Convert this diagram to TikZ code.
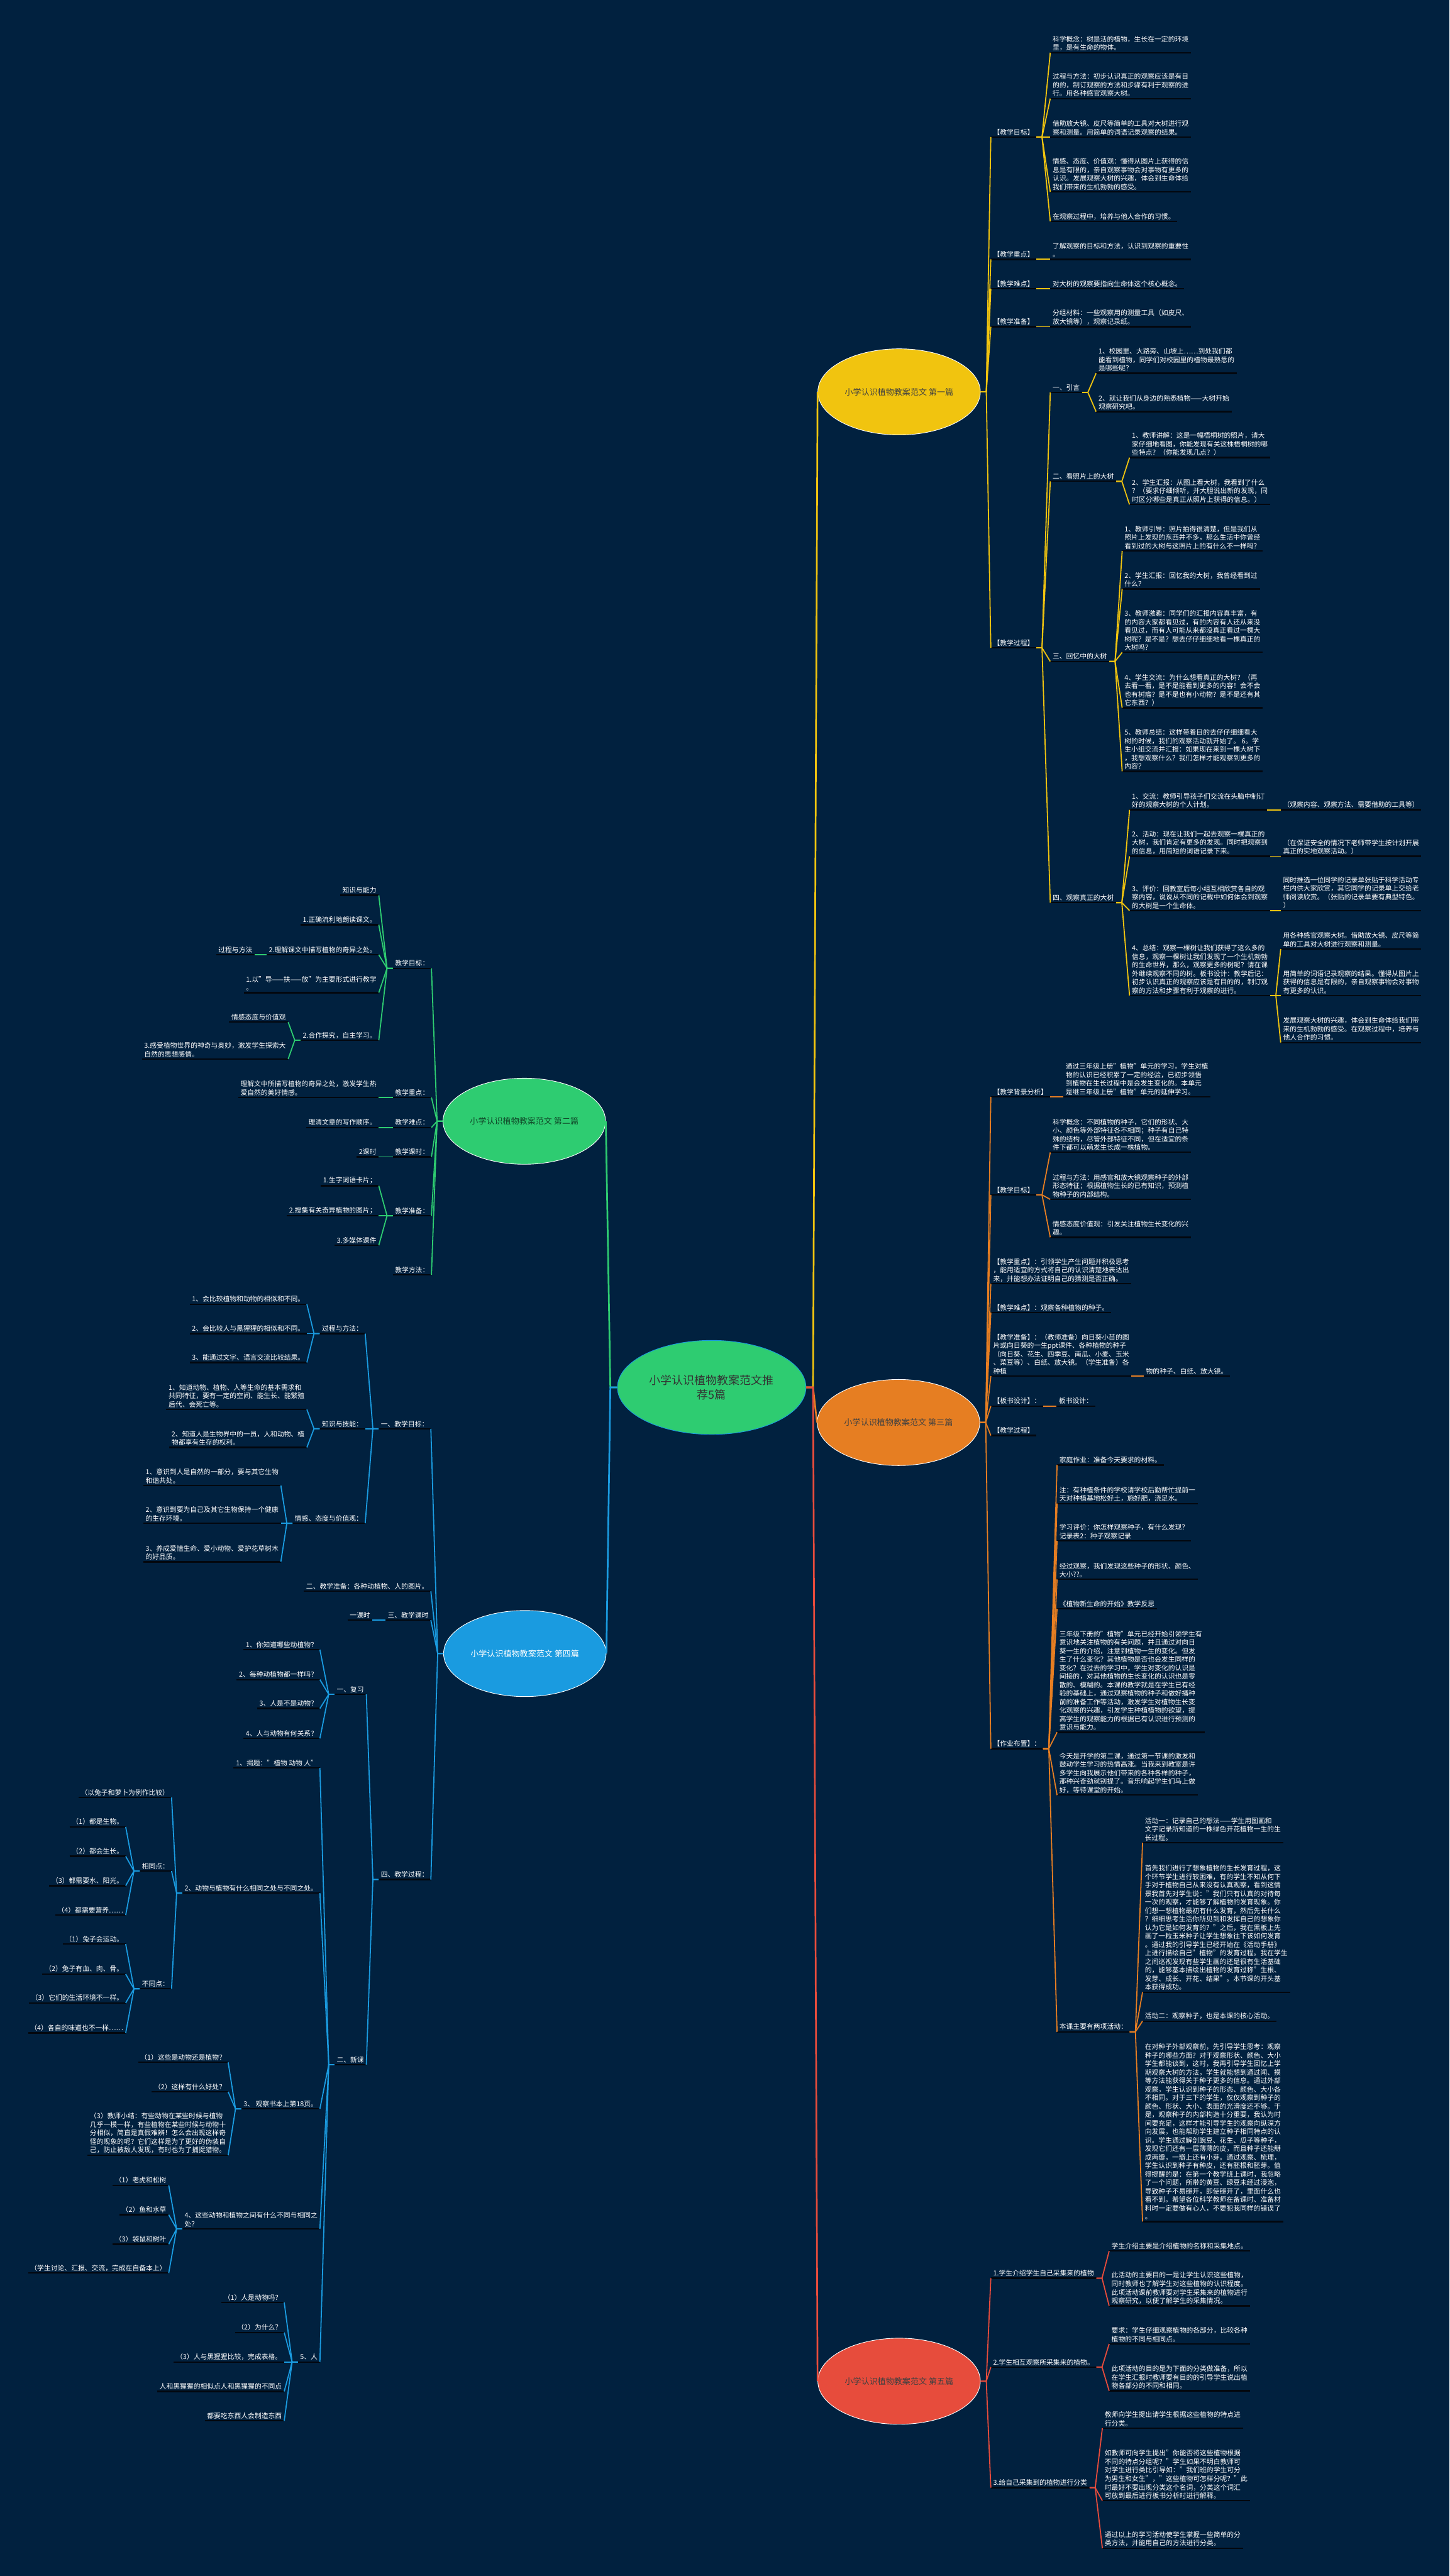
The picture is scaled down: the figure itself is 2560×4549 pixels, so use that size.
\documentclass[tikz,border=0pt]{standalone}
\usepackage{fontspec}
\setmainfont{Noto Sans CJK SC}
\usetikzlibrary{shapes.geometric}
\definecolor{bgnavy}{HTML}{01213F}
\definecolor{ulblack}{HTML}{03070E}
\definecolor{sun}{HTML}{F1C40F}
\definecolor{leaf}{HTML}{2ECC71}
\definecolor{carrot}{HTML}{E67E22}
\definecolor{sky}{HTML}{1A9BE0}
\definecolor{brick}{HTML}{E74C3C}

\begin{document}
\begin{tikzpicture}[
  x=1pt, y=-1pt,
  txt/.style={text=white, align=left, inner xsep=4pt, inner ysep=3pt,
              font=\fontsize{12}{15}\selectfont},
  uline/.style={draw=ulblack, line width=2.5pt},
  rt/.style={txt, anchor=south west,
    append after command={(\tikzlastnode.south west) edge[uline] (\tikzlastnode.south east)}},
  lt/.style={txt, anchor=south east,
    append after command={(\tikzlastnode.south west) edge[uline] (\tikzlastnode.south east)}},
  topic/.style={ellipse, draw=white, line width=1pt, minimum width=287pt,
                minimum height=152pt, font=\fontsize{14.5}{17}\selectfont, text=black!75},
  ylink/.style={draw=sun, line width=2pt},
  glink/.style={draw=leaf, line width=2pt},
  olink/.style={draw=carrot, line width=2pt},
  slink/.style={draw=sky, line width=2pt},
  rlink/.style={draw=brick, line width=2pt}
]
\fill[bgnavy] (0,0) rectangle (2560,4549);
\useasboundingbox (0,0) rectangle (2560,4549);

% centre and the five topics
\node[ellipse, fill=leaf, draw=sky, line width=1pt, minimum width=333pt, minimum height=166pt,
      align=center, font=\fontsize{20}{25}\selectfont, text=black!80] (root) at (1257,2450)
  {小学认识植物教案范文推\\荐5篇};
\node[topic, fill=sun] (t1) at (1588,692) {小学认识植物教案范文 第一篇};
\node[topic, fill=leaf, text=leaf!35!black] (t2) at (926,1980) {小学认识植物教案范文 第二篇};
\node[topic, fill=carrot] (t3) at (1587,2512) {小学认识植物教案范文 第三篇};
\node[topic, fill=sky, text=white] (t4) at (927,2920) {小学认识植物教案范文 第四篇};
\node[topic, fill=brick] (t5) at (1588,4205) {小学认识植物教案范文 第五篇};

% ---------- 第一篇
\node[rt] (y1) at (1750,242) {【教学目标】};
\node[rt] (y2) at (1750,458) {【教学重点】};
\node[rt] (y3) at (1750,510) {【教学难点】};
\node[rt] (y4) at (1750,577) {【教学准备】};
\node[rt] (y5) at (1750,1144) {【教学过程】};

\node[rt] (y1a) at (1855,93) {科学概念：树是活的植物，生长在一定的环境\\里，是有生命的物体。};
\node[rt] (y1b) at (1855,174) {过程与方法：初步认识真正的观察应该是有目\\的的，制订观察的方法和步骤有利于观察的进\\行。用各种感官观察大树。};
\node[rt] (y1c) at (1855,242) {借助放大镜、皮尺等简单的工具对大树进行观\\察和测量。用简单的词语记录观察的结果。};
\node[rt] (y1d) at (1855,339) {情感、态度、价值观：懂得从图片上获得的信\\息是有限的，亲自观察事物会对事物有更多的\\认识。发展观察大树的兴趣，体会到生命体给\\我们带来的生机勃勃的感受。};
\node[rt] (y1e) at (1855,391) {在观察过程中，培养与他人合作的习惯。};
\node[rt] (y2a) at (1855,458) {了解观察的目标和方法，认识到观察的重要性\\。};
\node[rt] (y3a) at (1855,510) {对大树的观察要指向生命体这个核心概念。};
\node[rt] (y4a) at (1855,577) {分组材料：一些观察用的测量工具（如皮尺、\\放大镜等），观察记录纸。};

\node[rt] (y5a) at (1855,693) {一、引言};
\node[rt] (y5b) at (1855,850) {二、看照片上的大树};
\node[rt] (y5c) at (1855,1168) {三、回忆中的大树};
\node[rt] (y5d) at (1855,1594) {四、观察真正的大树};

\node[rt] (y5a1) at (1936,659) {1、校园里、大路旁、山坡上……到处我们都\\能看到植物，同学们对校园里的植物最熟悉的\\是哪些呢？};
\node[rt] (y5a2) at (1936,727) {2、就让我们从身边的熟悉植物——大树开始\\观察研究吧。};
\node[rt] (y5b1) at (1995,808) {1、教师讲解：这是一幅梧桐树的照片，请大\\家仔细地看图，你能发现有关这株梧桐树的哪\\些特点？（你能发现几点？）};
\node[rt] (y5b2) at (1995,891) {2、学生汇报：从图上看大树，我看到了什么\\？（要求仔细倾听，并大胆说出新的发现，同\\时区分哪些是真正从照片上获得的信息。）};
\node[rt] (y5c1) at (1982,973) {1、教师引导：照片拍得很清楚，但是我们从\\照片上发现的东西并不多，那么生活中你曾经\\看到过的大树与这照片上的有什么不一样吗？};
\node[rt] (y5c2) at (1982,1040) {2、学生汇报：回忆我的大树，我曾经看到过\\什么？};
\node[rt] (y5c3) at (1982,1152) {3、教师激趣：同学们的汇报内容真丰富，有\\的内容大家都看见过，有的内容有人还从来没\\看见过，而有人可能从来都没真正看过一棵大\\树呢？是不是？想去仔仔细细地看一棵真正的\\大树吗？};
\node[rt] (y5c4) at (1982,1250) {4、学生交流：为什么想看真正的大树？（再\\去看一看，是不是能看到更多的内容！会不会\\也有树瘤？是不是也有小动物？是不是还有其\\它东西？）};
\node[rt] (y5c5) at (1982,1362) {5、教师总结：这样带着目的去仔仔细细看大\\树的时候，我们的观察活动就开始了。 6。学\\生小组交流并汇报：如果现在来到一棵大树下\\，我想观察什么？我们怎样才能观察到更多的\\内容？};
\node[rt] (y5d1) at (1995,1430) {1、交流：教师引导孩子们交流在头脑中制订\\好的观察大树的个人计划。};
\node[rt] (y5d2) at (1995,1512) {2、活动：现在让我们一起去观察一棵真正的\\大树，我们肯定有更多的发现。同时把观察到\\的信息，用简短的词语记录下来。};
\node[rt] (y5d3) at (1995,1608) {3、评价：回教室后每小组互相欣赏各自的观\\察内容，说说从不同的记载中如何体会到观察\\的大树是一个生命体。};
\node[rt] (y5d4) at (1995,1758) {4、总结：观察一棵树让我们获得了这么多的\\信息，观察一棵树让我们发现了一个生机勃勃\\的生命世界，那么，观察更多的树呢？请在课\\外继续观察不同的树。板书设计：教学后记：\\初步认识真正的观察应该是有目的的，制订观\\察的方法和步骤有利于观察的进行。};
\node[rt] (y5d1a) at (2262,1430) {（观察内容、观察方法、需要借助的工具等）};
\node[rt] (y5d2a) at (2262,1512) {（在保证安全的情况下老师带学生按计划开展\\真正的实地观察活动。）};
\node[rt] (y5d3a) at (2262,1608) {同时推选一位同学的记录单张贴于科学活动专\\栏内供大家欣赏，其它同学的记录单上交给老\\师阅读欣赏。（张贴的记录单要有典型特色。\\）};
\node[rt] (y5d4a) at (2262,1676) {用各种感官观察大树。借助放大镜、皮尺等简\\单的工具对大树进行观察和测量。};
\node[rt] (y5d4b) at (2262,1758) {用简单的词语记录观察的结果。懂得从图片上\\获得的信息是有限的，亲自观察事物会对事物\\有更多的认识。};
\node[rt] (y5d4c) at (2262,1841) {发展观察大树的兴趣，体会到生命体给我们带\\来的生机勃勃的感受。在观察过程中，培养与\\他人合作的习惯。};

% ---------- 第二篇
\node[lt] (g1) at (762,1710) {教学目标：};
\node[lt] (g2) at (762,1938) {教学重点：};
\node[lt] (g3) at (762,1991) {教学难点：};
\node[lt] (g4) at (762,2043) {教学课时：};
\node[lt] (g5) at (762,2147) {教学准备：};
\node[lt] (g6) at (762,2251) {教学方法：};

\node[lt] (g1a) at (669,1581) {知识与能力};
\node[lt] (g1b) at (669,1633) {1.正确流利地朗读课文。};
\node[lt] (g1c) at (669,1686) {2.理解课文中描写植物的奇异之处。};
\node[lt] (g1d) at (669,1753) {1.以"导——扶——放"为主要形式进行教学\\。};
\node[lt] (g1e) at (669,1837) {2.合作探究，自主学习。};
\node[lt] (g1c1) at (450,1686) {过程与方法};
\node[lt] (g1e1) at (509,1805) {情感态度与价值观};
\node[lt] (g1e2) at (509,1870) {3.感受植物世界的神奇与奥妙，激发学生探索大\\自然的思想感情。};
\node[lt] (g2a) at (669,1938) {理解文中所描写植物的奇异之处，激发学生热\\爱自然的美好情感。};
\node[lt] (g3a) at (669,1991) {理清文章的写作顺序。};
\node[lt] (g4a) at (669,2043) {2课时};
\node[lt] (g5a) at (669,2094) {1.生字词语卡片；};
\node[lt] (g5b) at (669,2147) {2.搜集有关奇异植物的图片；};
\node[lt] (g5c) at (669,2199) {3.多媒体课件};

% ---------- 第三篇
\node[rt] (o1) at (1750,1937) {【教学背景分析】};
\node[rt] (o2) at (1750,2110) {【教学目标】};
\node[rt] (o3) at (1750,2267) {【教学重点】：引领学生产生问题并积极思考\\，能用适宜的方式将自己的认识清楚地表达出\\来，并能想办法证明自己的猜测是否正确。};
\node[rt] (o4) at (1750,2318) {【教学难点】：观察各种植物的种子。};
\node[rt] (o5) at (1750,2430) {【教学准备】：（教师准备）向日葵小苗的图\\片或向日葵的一生ppt课件、各种植物的种子\\（向日葵、花生、四季豆、南瓜、小麦、玉米\\、菜豆等）、白纸、放大镜。（学生准备）各\\种植};
\node[rt] (o6) at (1750,2483) {【板书设计】：};
\node[rt] (o7) at (1750,2535) {【教学过程】};
\node[rt] (o8) at (1750,3088) {【作业布置】：};

\node[rt] (o1a) at (1878,1937) {通过三年级上册"植物"单元的学习，学生对植\\物的认识已经积累了一定的经验，已初步领悟\\到植物在生长过程中是会发生变化的。本单元\\是继三年级上册"植物"单元的延伸学习。};
\node[rt] (o2a) at (1855,2035) {科学概念：不同植物的种子，它们的形状、大\\小、颜色等外部特征各不相同；种子有自己特\\殊的结构，尽管外部特征不同，但在适宜的条\\件下都可以萌发生长成一株植物。};
\node[rt] (o2b) at (1855,2118) {过程与方法：用感官和放大镜观察种子的外部\\形态特征；根据植物生长的已有知识，预测植\\物种子的内部结构。};
\node[rt] (o2c) at (1855,2185) {情感态度价值观：引发关注植物生长变化的兴\\趣。};
\node[rt] (o5a) at (2020,2430) {物的种子、白纸、放大镜。};
\node[rt] (o6a) at (1866,2483) {板书设计：};

\node[rt] (o8a) at (1867,2587) {家庭作业：准备今天要求的材料。};
\node[rt] (o8b) at (1867,2655) {注：有种植条件的学校请学校后勤帮忙提前一\\天对种植基地松好土，施好肥，浇足水。};
\node[rt] (o8c) at (1867,2721) {学习评价：你怎样观察种子，有什么发现？\\记录表2：种子观察记录};
\node[rt] (o8d) at (1867,2789) {经过观察，我们发现这些种子的形状、颜色、\\大小??。};
\node[rt] (o8e) at (1867,2841) {《植物新生命的开始》教学反思};
\node[rt] (o8f) at (1867,3059) {三年级下册的"植物"单元已经开始引领学生有\\意识地关注植物的有关问题，并且通过对向日\\葵一生的介绍，注意到植物一生的变化。但发\\生了什么变化？其他植物是否也会发生同样的\\变化？在过去的学习中，学生对变化的认识是\\间接的，对其他植物的生长变化的认识也是零\\散的、模糊的。本课的教学就是在学生已有经\\验的基础上，通过观察植物的种子和做好播种\\前的准备工作等活动，激发学生对植物生长变\\化观察的兴趣，引发学生种植植物的欲望，提\\高学生的观察能力的根据已有认识进行预测的\\意识与能力。};
\node[rt] (o8g) at (1867,3170) {今天是开学的第二课，通过第一节课的激发和\\鼓动学生学习的热情高涨。当我来到教室是许\\多学生向我展示他们带来的各种各样的种子，\\那种兴奋劲就别提了。音乐响起学生们马上做\\好，等待课堂的开始。};
\node[rt] (o8h) at (1867,3588) {本课主要有两项活动：};
\node[rt] (o8h1) at (2018,3254) {活动一：记录自己的想法——学生用图画和\\文字记录所知道的一株绿色开花植物一生的生\\长过程。};
\node[rt] (o8h2) at (2018,3518) {首先我们进行了想象植物的生长发育过程，这\\个环节学生进行较困难，有的学生不知从何下\\手对于植物自己从来没有认真观察，看到这情\\景我首先对学生说："我们只有认真的对待每\\一次的观察，才能够了解植物的发育现象。你\\们想一想植物最初有什么发育，然后先长什么\\？细细思考生活你所见到和发挥自己的想象你\\认为它是如何发育的？"之后，我在黑板上先\\画了一粒玉米种子让学生想象往下该如何发育\\。通过我的引导学生已经开始在《活动手册》\\上进行描绘自己"植物"的发育过程。我在学生\\之间巡视发现有些学生画的还是很有生活基础\\的，能够基本描绘出植物的发育过称"生根、\\发芽、成长、开花、结果"。本节课的开头基\\本获得成功。};
\node[rt] (o8h3) at (2018,3569) {活动二：观察种子，也是本课的核心活动。};
\node[rt] (o8h4) at (2018,3923) {在对种子外部观察前，先引导学生思考：观察\\种子的哪些方面？对于观察形状、颜色、大小\\学生都能谈到，这时，我再引导学生回忆上学\\期观察大树的方法，学生就能想到通过闻、摸\\等方法能获得关于种子更多的信息。通过外部\\观察，学生认识到种子的形态、颜色、大小各\\不相同。对于三下的学生，仅仅观察到种子的\\颜色、形状、大小、表面的光滑度还不够。于\\是，观察种子的内部构造十分重要，我认为时\\间要充足，这样才能引导学生的观察向纵深方\\向发展，也能帮助学生建立种子相同特点的认\\识。学生通过解剖豌豆、花生、瓜子等种子，\\发现它们还有一层薄薄的皮，而且种子还能掰\\成两瓣，一瓣上还有小芽。通过观察、梳理，\\学生认识到种子有种皮，还有胚根和胚芽。值\\得提醒的是：在第一个教学班上课时，我忽略\\了一个问题，所带的黄豆、绿豆未经过浸泡，\\导致种子不易掰开，即使掰开了，里面什么也\\看不到。希望各位科学教师在备课时、准备材\\料时一定要做有心人，不要犯我同样的错误了\\。};

% ---------- 第四篇
\node[lt] (b1) at (761,2523) {一、教学目标：};
\node[lt] (b2) at (761,2810) {二、教学准备：各种动植物、人的图片。};
\node[lt] (b3) at (761,2861) {三、教学课时};
\node[lt] (b4) at (761,3319) {四、教学过程：};
\node[lt] (b3a) at (658,2861) {一课时};

\node[lt] (b1a) at (645,2355) {过程与方法：};
\node[lt] (b1b) at (645,2523) {知识与技能：};
\node[lt] (b1c) at (645,2690) {情感、态度与价值观：};
\node[lt] (b1a1) at (542,2303) {1、会比较植物和动物的相似和不同。};
\node[lt] (b1a2) at (542,2355) {2、会比较人与黑猩猩的相似和不同。};
\node[lt] (b1a3) at (542,2406) {3、能通过文字、语言交流比较结果。};
\node[lt] (b1b1) at (542,2489) {1、知道动物、植物、人等生命的基本需求和\\共同特征，要有一定的空间、能生长、能繁殖\\后代、会死亡等。};
\node[lt] (b1b2) at (542,2556) {2、知道人是生物界中的一员，人和动物、植\\物都享有生存的权利。};
\node[lt] (b1c1) at (496,2623) {1、意识到人是自然的一部分，要与其它生物\\和谐共处。};
\node[lt] (b1c2) at (496,2690) {2、意识到要为自己及其它生物保持一个健康\\的生存环境。};
\node[lt] (b1c3) at (496,2758) {3、养成爱惜生命、爱小动物、爱护花草树木\\的好品质。};

\node[lt] (b4a) at (647,2992) {一、复习};
\node[lt] (b4b) at (647,3646) {二、新课};
\node[lt] (b4a1) at (565,2913) {1、你知道哪些动植物？};
\node[lt] (b4a2) at (565,2966) {2、每种动植物都一样吗？};
\node[lt] (b4a3) at (565,3017) {3、人是不是动物？};
\node[lt] (b4a4) at (565,3070) {4、人与动物有何关系？};
\node[lt] (b4b1) at (565,3122) {1、揭题："植物 动物 人"};
\node[lt] (b4b2) at (565,3343) {2、动物与植物有什么相同之处与不同之处。};
\node[lt] (b4b3) at (565,3724) {3、 观察书本上第18页。};
\node[lt] (b4b4) at (565,3936) {4、这些动物和植物之间有什么不同与相同之\\处？};
\node[lt] (b4b5) at (565,4171) {5、人};

\node[lt] (b4b2a) at (303,3174) {（以兔子和萝卜为例作比较）};
\node[lt] (b4b2b) at (303,3304) {相同点：};
\node[lt] (b4b2c) at (303,3512) {不同点：};
\node[lt] (s1) at (222,3226) {（1）都是生物。};
\node[lt] (s2) at (222,3278) {（2）都会生长。};
\node[lt] (s3) at (222,3330) {（3）都需要水、阳光。};
\node[lt] (s4) at (222,3382) {（4）都需要营养……};
\node[lt] (d1) at (222,3433) {（1）兔子会运动。};
\node[lt] (d2) at (222,3486) {（2）兔子有血、肉、骨。};
\node[lt] (d3) at (222,3537) {（3）它们的生活环境不一样。};
\node[lt] (d4) at (222,3590) {（4）各自的味道也不一样……};

\node[lt] (b4b3a) at (403,3642) {（1）这些是动物还是植物？};
\node[lt] (b4b3b) at (403,3694) {（2）这样有什么好处？};
\node[lt] (b4b3c) at (403,3806) {（3）教师小结：有些动物在某些时候与植物\\几乎一模一样，有些植物在某些时候与动物十\\分相似，简直是真假难辨！怎么会出现这样奇\\怪的现象的呢？它们这样是为了更好的伪装自\\己，防止被敌人发现，有时也为了捕捉猎物。};
\node[lt] (b4b4a) at (298,3859) {（1）老虎和松树};
\node[lt] (b4b4b) at (298,3911) {（2）鱼和水草};
\node[lt] (b4b4c) at (298,3963) {（3）袋鼠和树叶};
\node[lt] (b4b4d) at (298,4014) {（学生讨论、汇报、交流，完成在自备本上）};
\node[lt] (b4b5a) at (502,4066) {（1）人是动物吗？};
\node[lt] (b4b5b) at (502,4119) {（2）为什么？};
\node[lt] (b4b5c) at (502,4171) {（3）人与黑猩猩比较，完成表格。};
\node[lt] (b4b5d) at (502,4223) {人和黑猩猩的相似点人和黑猩猩的不同点};
\node[lt] (b4b5e) at (502,4275) {都要吃东西人会制造东西};

% ---------- 第五篇
\node[rt] (r1) at (1750,4023) {1.学生介绍学生自己采集来的植物};
\node[rt] (r2) at (1750,4180) {2.学生相互观察所采集来的植物。};
\node[rt] (r3) at (1750,4393) {3.给自己采集到的植物进行分类};
\node[rt] (r1a) at (1959,3975) {学生介绍主要是介绍植物的名称和采集地点。};
\node[rt] (r1b) at (1959,4072) {此活动的主要目的一是让学生认识这些植物，\\同时教师也了解学生对这些植物的认识程度。\\此项活动课前教师要对学生采集来的植物进行\\观察研究，以便了解学生的采集情况。};
\node[rt] (r2a) at (1959,4139) {要求：学生仔细观察植物的各部分，比较各种\\植物的不同与相同点。};
\node[rt] (r2b) at (1959,4222) {此项活动的目的是为下面的分类做准备，所以\\在学生汇报时教师要有目的的引导学生说出植\\物各部分的不同和相同。};
\node[rt] (r3a) at (1947,4288) {教师向学生提出请学生根据这些植物的特点进\\行分类。};
\node[rt] (r3b) at (1947,4416) {如教师可向学生提出"你能否将这些植物根据\\不同的特点分组呢？"学生如果不明白教师可\\对学生进行类比引导如："我们班的学生可分\\为男生和女生"，"这些植物可怎样分呢？"此\\时最好不要出现分类这个名词，分类这个词汇\\可放到最后进行板书分析时进行解释。};
\node[rt] (r3c) at (1947,4500) {通过以上的学习活动使学生掌握一些简单的分\\类方法，并能用自己的方法进行分类。};

% centre links
\draw[ylink, line width=3pt] (root.east) -- ++(12,0) -- (t1.west);
\draw[olink, line width=3pt] (root.east) -- ++(12,0) -- (t3.west);
\draw[rlink, line width=3pt] (root.east) -- ++(12,0) -- (t5.west);
\draw[glink, line width=3pt] (root.west) -- ++(-12,0) -- (t2.east);
\draw[slink, line width=3pt] (root.west) -- ++(-12,0) -- (t4.east);

% 第一篇 links
\foreach \n in {y1,y2,y3,y4,y5}
  \draw[ylink] (t1.east) -- ++(10,0) -- (\n.south west);
\foreach \n in {y1a,y1b,y1c,y1d,y1e}
  \draw[ylink] (y1.south east) -- ++(10,0) -- (\n.south west);
\draw[ylink] (y2.south east) -- (y2a.south west);
\draw[ylink] (y3.south east) -- (y3a.south west);
\draw[ylink] (y4.south east) -- (y4a.south west);
\foreach \n in {y5a,y5b,y5c,y5d}
  \draw[ylink] (y5.south east) -- ++(10,0) -- (\n.south west);
\foreach \n in {y5a1,y5a2}
  \draw[ylink] (y5a.south east) -- ++(10,0) -- (\n.south west);
\foreach \n in {y5b1,y5b2}
  \draw[ylink] (y5b.south east) -- ++(10,0) -- (\n.south west);
\foreach \n in {y5c1,y5c2,y5c3,y5c4,y5c5}
  \draw[ylink] (y5c.south east) -- ++(10,0) -- (\n.south west);
\foreach \n in {y5d1,y5d2,y5d3,y5d4}
  \draw[ylink] (y5d.south east) -- ++(10,0) -- (\n.south west);
\draw[ylink] (y5d1.south east) -- (y5d1a.south west);
\draw[ylink] (y5d2.south east) -- (y5d2a.south west);
\draw[ylink] (y5d3.south east) -- (y5d3a.south west);
\foreach \n in {y5d4a,y5d4b,y5d4c}
  \draw[ylink] (y5d4.south east) -- ++(10,0) -- (\n.south west);

% 第二篇 links
\foreach \n in {g1,g2,g3,g4,g5,g6}
  \draw[glink] (t2.west) -- ++(-10,0) -- (\n.south east);
\foreach \n in {g1a,g1b,g1c,g1d,g1e}
  \draw[glink] (g1.south west) -- ++(-10,0) -- (\n.south east);
\draw[glink] (g1c.south west) -- (g1c1.south east);
\foreach \n in {g1e1,g1e2}
  \draw[glink] (g1e.south west) -- ++(-10,0) -- (\n.south east);
\draw[glink] (g2.south west) -- (g2a.south east);
\draw[glink] (g3.south west) -- (g3a.south east);
\draw[glink] (g4.south west) -- (g4a.south east);
\foreach \n in {g5a,g5b,g5c}
  \draw[glink] (g5.south west) -- ++(-10,0) -- (\n.south east);

% 第三篇 links
\foreach \n in {o1,o2,o3,o4,o5,o6,o7,o8}
  \draw[olink] (t3.east) -- ++(10,0) -- (\n.south west);
\draw[olink] (o1.south east) -- (o1a.south west);
\foreach \n in {o2a,o2b,o2c}
  \draw[olink] (o2.south east) -- ++(10,0) -- (\n.south west);
\draw[olink] (o5.south east) -- (o5a.south west);
\draw[olink] (o6.south east) -- (o6a.south west);
\foreach \n in {o8a,o8b,o8c,o8d,o8e,o8f,o8g,o8h}
  \draw[olink] (o8.south east) -- ++(10,0) -- (\n.south west);
\foreach \n in {o8h1,o8h2,o8h3,o8h4}
  \draw[olink] (o8h.south east) -- ++(10,0) -- (\n.south west);

% 第四篇 links
\foreach \n in {b1,b2,b3,b4}
  \draw[slink] (t4.west) -- ++(-10,0) -- (\n.south east);
\draw[slink] (b3.south west) -- (b3a.south east);
\foreach \n in {b1a,b1b,b1c}
  \draw[slink] (b1.south west) -- ++(-10,0) -- (\n.south east);
\foreach \n in {b1a1,b1a2,b1a3}
  \draw[slink] (b1a.south west) -- ++(-10,0) -- (\n.south east);
\foreach \n in {b1b1,b1b2}
  \draw[slink] (b1b.south west) -- ++(-10,0) -- (\n.south east);
\foreach \n in {b1c1,b1c2,b1c3}
  \draw[slink] (b1c.south west) -- ++(-10,0) -- (\n.south east);
\foreach \n in {b4a,b4b}
  \draw[slink] (b4.south west) -- ++(-10,0) -- (\n.south east);
\foreach \n in {b4a1,b4a2,b4a3,b4a4}
  \draw[slink] (b4a.south west) -- ++(-10,0) -- (\n.south east);
\foreach \n in {b4b1,b4b2,b4b3,b4b4,b4b5}
  \draw[slink] (b4b.south west) -- ++(-10,0) -- (\n.south east);
\foreach \n in {b4b2a,b4b2b,b4b2c}
  \draw[slink] (b4b2.south west) -- ++(-10,0) -- (\n.south east);
\foreach \n in {s1,s2,s3,s4}
  \draw[slink] (b4b2b.south west) -- ++(-10,0) -- (\n.south east);
\foreach \n in {d1,d2,d3,d4}
  \draw[slink] (b4b2c.south west) -- ++(-10,0) -- (\n.south east);
\foreach \n in {b4b3a,b4b3b,b4b3c}
  \draw[slink] (b4b3.south west) -- ++(-10,0) -- (\n.south east);
\foreach \n in {b4b4a,b4b4b,b4b4c,b4b4d}
  \draw[slink] (b4b4.south west) -- ++(-10,0) -- (\n.south east);
\foreach \n in {b4b5a,b4b5b,b4b5c,b4b5d,b4b5e}
  \draw[slink] (b4b5.south west) -- ++(-10,0) -- (\n.south east);

% 第五篇 links
\foreach \n in {r1,r2,r3}
  \draw[rlink] (t5.east) -- ++(10,0) -- (\n.south west);
\foreach \n in {r1a,r1b}
  \draw[rlink] (r1.south east) -- ++(10,0) -- (\n.south west);
\foreach \n in {r2a,r2b}
  \draw[rlink] (r2.south east) -- ++(10,0) -- (\n.south west);
\foreach \n in {r3a,r3b,r3c}
  \draw[rlink] (r3.south east) -- ++(10,0) -- (\n.south west);
\end{tikzpicture}
\end{document}
